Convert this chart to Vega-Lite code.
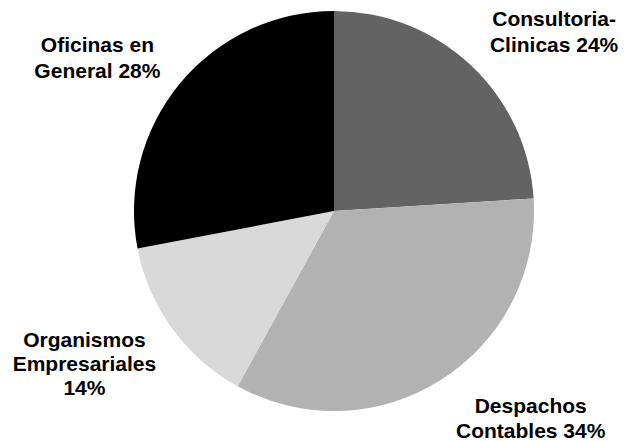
{
  "$schema": "https://vega.github.io/schema/vega-lite/v6.json",
  "width": 580,
  "height": 422,
  "autosize": {"type": "none"},
  "padding": {"left": 44, "top": 0, "right": 0, "bottom": 19},
  "background": "white",
  "config": {"view": {"stroke": null}},
  "data": {
    "values": [
      {"category": "Consultoria-Clinicas", "value": 24, "rank": 1, "label": "Consultoria-\nClinicas 24%"},
      {"category": "Despachos Contables", "value": 34, "rank": 2, "label": "Despachos\nContables 34%"},
      {"category": "Organismos Empresariales", "value": 14, "rank": 3, "label": "Organismos\nEmpresariales\n14%"},
      {"category": "Oficinas en General", "value": 28, "rank": 4, "label": "Oficinas en\nGeneral 28%"}
    ]
  },
  "encoding": {
    "theta": {"field": "value", "type": "quantitative", "stack": true},
    "order": {"field": "rank", "type": "ordinal"}
  },
  "layer": [
    {
      "mark": {"type": "arc", "outerRadius": 200},
      "encoding": {
        "color": {
          "field": "category",
          "type": "nominal",
          "scale": {
            "domain": ["Consultoria-Clinicas", "Despachos Contables", "Organismos Empresariales", "Oficinas en General"],
            "range": ["#636363", "#b2b2b2", "#d9d9d9", "#000000"]
          },
          "legend": null
        }
      }
    },
    {
      "mark": {"type": "text", "dx": 25, "dy": 17, "font": "Liberation Sans", "fontWeight": "bold", "fontSize": 21, "lineBreak": "\n", "lineHeight": 26, "align": "center", "baseline": "middle", "color": "black"},
      "encoding": {
        "radius": {"value": 285},
        "text": {"condition": {"test": "datum.category === 'Consultoria-Clinicas'", "field": "label", "type": "nominal"}, "value": ""}
      }
    },
    {
      "mark": {"type": "text", "dx": 44, "dy": -45, "font": "Liberation Sans", "fontWeight": "bold", "fontSize": 21, "lineBreak": "\n", "lineHeight": 25, "align": "center", "baseline": "middle", "color": "black"},
      "encoding": {
        "radius": {"value": 285},
        "text": {"condition": {"test": "datum.category === 'Despachos Contables'", "field": "label", "type": "nominal"}, "value": ""}
      }
    },
    {
      "mark": {"type": "text", "dx": -19, "dy": -38, "font": "Liberation Sans", "fontWeight": "bold", "fontSize": 21, "lineBreak": "\n", "lineHeight": 24, "align": "center", "baseline": "middle", "color": "black"},
      "encoding": {
        "radius": {"value": 285},
        "text": {"condition": {"test": "datum.category === 'Organismos Empresariales'", "field": "label", "type": "nominal"}, "value": ""}
      }
    },
    {
      "mark": {"type": "text", "dx": -17, "dy": 17, "font": "Liberation Sans", "fontWeight": "bold", "fontSize": 21, "lineBreak": "\n", "lineHeight": 26, "align": "center", "baseline": "middle", "color": "black"},
      "encoding": {
        "radius": {"value": 285},
        "text": {"condition": {"test": "datum.category === 'Oficinas en General'", "field": "label", "type": "nominal"}, "value": ""}
      }
    }
  ]
}
